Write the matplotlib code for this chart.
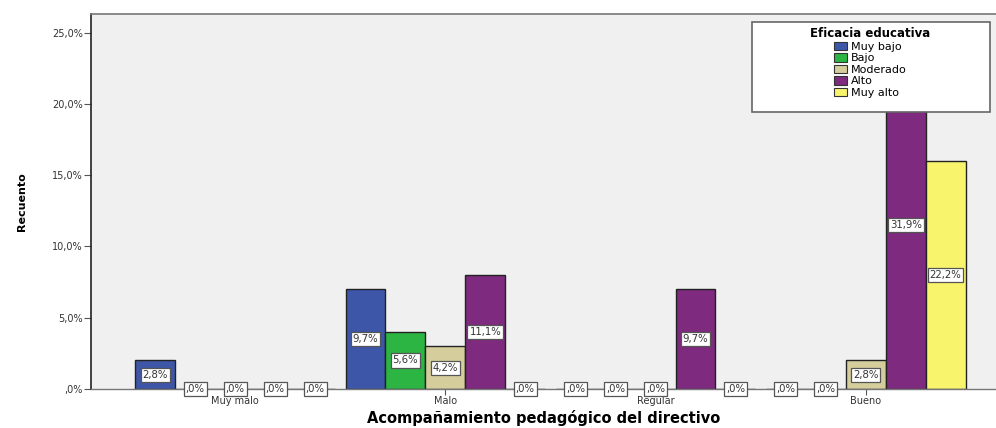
import numpy as np
import matplotlib.pyplot as plt
from matplotlib.patches import Rectangle, Patch

# counts per group (acompanamiento) and level (eficacia)
categories = ['Muy malo', 'Malo', 'Regular', 'Bueno']
levels = ['Muy bajo', 'Bajo', 'Moderado', 'Alto', 'Muy alto']
muy_bajo = [2, 7, 0, 0]
bajo = [0, 4, 0, 0]
moderado = [0, 3, 0, 2]
alto = [0, 8, 7, 23]
muy_alto = [0, 0, 0, 16]
series = [muy_bajo, bajo, moderado, alto, muy_alto]
total = 72

colors = ['#3d56a8', '#2cb543', '#d5cd9b', '#7e2a7e', '#f8f56d']
ytick_labels = [',0%', '5,0%', '10,0%', '15,0%', '20,0%', '25,0%']

fig = plt.figure(figsize=(9.96, 4.28), dpi=100)
ax = fig.add_axes([0.0914, 0.0911, 0.9086, 0.876])
ax.set_facecolor('#f0f0f0')

x = np.arange(len(categories))
w = 0.19
for i, (vals, col) in enumerate(zip(series, colors)):
    pos = x + (i - 2) * w
    ax.bar(pos, vals, width=w, color=col, edgecolor='#222222', linewidth=1.0, zorder=2)
    for p, v in zip(pos, vals):
        pct = v / total * 100
        txt = f'{pct:.1f}%'.replace('.', ',')
        if txt.startswith('0,'):
            txt = txt[1:]
        ax.text(p, v / 2, txt, ha='center', va='center', fontsize=7.3, color='#333333',
                zorder=3,
                bbox=dict(boxstyle='square,pad=0.2', fc='white', ec='#555555', lw=0.9))

ax.set_xlim(-0.686, 3.62)
ax.set_ylim(0, 26.3)
ax.set_yticks([0, 5, 10, 15, 20, 25])
ax.set_yticklabels(ytick_labels, fontsize=7, color='#333333')
ax.set_xticks(x)
ax.set_xticklabels(categories, fontsize=7, color='#333333')
ax.tick_params(axis='x', length=4, width=0.8, color='#555555', pad=1)
ax.tick_params(axis='y', length=5, width=0.8, color='#555555', pad=1)

ax.spines['right'].set_visible(False)
ax.spines['left'].set_color('#222222')
ax.spines['left'].set_linewidth(1.2)
ax.spines['top'].set_color('#777777')
ax.spines['top'].set_linewidth(1.2)
ax.spines['bottom'].set_color('#777777')
ax.spines['bottom'].set_linewidth(1.0)

ax.set_ylabel('Recuento', fontsize=8, fontweight='bold', labelpad=18)
ax.set_xlabel('Acompañamiento pedagógico del directivo', fontsize=10.5,
              fontweight='bold', labelpad=3)

# legend box
box = Rectangle((0.730, 0.739), 0.263, 0.240, transform=ax.transAxes,
                facecolor='white', edgecolor='#666666', lw=1.2, zorder=4)
ax.add_patch(box)
handles = [Patch(facecolor=c, edgecolor='#333333', lw=0.8) for c in colors]
leg = ax.legend(handles, levels, title='Eficacia educativa', loc='upper center',
                bbox_to_anchor=(0.861, 0.985), frameon=False, fontsize=8,
                handlelength=1.2, handleheight=0.8, labelspacing=0.12,
                handletextpad=0.3, borderpad=0.2)
leg.get_title().set_fontweight('bold')
leg.get_title().set_fontsize(8.5)
leg.set_zorder(5)

fig.savefig('out.png', dpi=100)
